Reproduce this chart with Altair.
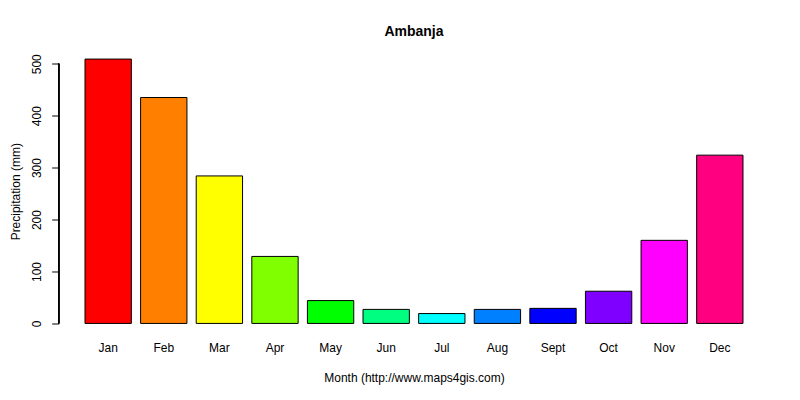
import altair as alt
import pandas as pd

months = ["Jan", "Feb", "Mar", "Apr", "May", "Jun", "Jul", "Aug", "Sept", "Oct", "Nov", "Dec"]
precip = [509, 435, 284, 129, 44, 27, 19, 27, 29, 62, 160, 324]
colors = ["#FF0000", "#FF8000", "#FFFF00", "#80FF00", "#00FF00", "#00FF80",
          "#00FFFF", "#0080FF", "#0000FF", "#8000FF", "#FF00FF", "#FF0080"]

df = pd.DataFrame({"month": months, "precip": precip})

W = 710.6
H = 285.5
FONT = "Liberation Sans"

bars = alt.Chart(df).mark_bar(stroke="black", strokeWidth=1).encode(
    x=alt.X("month:N", sort=months,
            scale=alt.Scale(paddingInner=1/6, paddingOuter=0.473),
            axis=alt.Axis(title="Month (http://www.maps4gis.com)", labelAngle=0,
                          domain=False, ticks=False, tickSize=0, labelPadding=9,
                          labelFontSize=12, labelFont=FONT, labelColor="black",
                          titleFontSize=12, titleFont=FONT, titleFontWeight="normal",
                          titleColor="black", titlePadding=19)),
    y=alt.Y("precip:Q",
            scale=alt.Scale(domain=[-20.36, 529.36], nice=False, zero=False),
            axis=alt.Axis(title="Precipitation (mm)", values=[0, 100, 200, 300, 400, 500],
                          domain=False, grid=False, tickSize=7, tickColor="black",
                          labelAngle=270, labelAlign="center", labelBaseline="bottom",
                          labelPadding=8, labelFontSize=12, labelFont=FONT, labelColor="black",
                          titleFontSize=12, titleFont=FONT, titleFontWeight="normal",
                          titleColor="black", titleAngle=270, titleAlign="center",
                          titleBaseline="middle", titleX=-43.5, titleY=H / 2)),
    y2=alt.datum(0),
    color=alt.Color("month:N", sort=months,
                    scale=alt.Scale(domain=months, range=colors), legend=None),
)

axis_line = alt.Chart(df).mark_rule(color="black", strokeWidth=1).encode(
    x=alt.value(0),
    y=alt.datum(0),
    y2=alt.datum(500),
)

chart = alt.layer(bars, axis_line).properties(
    width=W,
    height=H,
    background="white",
    title=alt.Title("Ambanja", fontSize=14, font=FONT, fontWeight="bold",
                    color="black", anchor="middle", offset=10),
    autosize=alt.AutoSizeParams(type="none"),
    padding={"left": 50.7, "top": 40.5, "right": 22, "bottom": 58},
).configure_view(strokeWidth=0, stroke="transparent")

chart.save("out.html", embed_options={"renderer": "svg", "actions": False})
